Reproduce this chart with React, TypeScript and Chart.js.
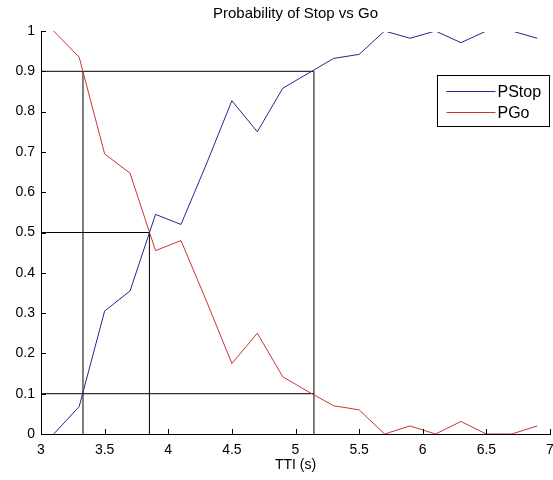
import React, { useEffect, useRef } from 'react';
import { Chart, registerables } from 'chart.js';

Chart.register(...registerables);

const TITLE = 'Probability of Stop vs Go';
const X_LABEL = 'TTI (s)';

const tti = [3.1, 3.3, 3.5, 3.7, 3.9, 4.1, 4.3, 4.5, 4.7, 4.9, 5.1, 5.3, 5.5, 5.7, 5.9, 6.1, 6.3, 6.5, 6.7, 6.9];
const pStop = [0, 0.068, 0.305, 0.355, 0.545, 0.52, 0.67, 0.827, 0.75, 0.858, 0.895, 0.932, 0.942, 1.0, 0.982, 1.0, 0.971, 1.0, 1.0, 0.982];
const pGo = [1.0, 0.935, 0.695, 0.647, 0.455, 0.48, 0.33, 0.175, 0.25, 0.142, 0.105, 0.07, 0.06, 0, 0.02, 0, 0.031, 0, 0, 0.02];

const seriesLabels = ['PStop', 'PGo'];
const seriesColors = ['#26268c', '#c83434'];

const xTickValues = [3, 3.5, 4, 4.5, 5, 5.5, 6, 6.5, 7];
const xTickLabels = ['3', '3.5', '4', '4.5', '5', '5.5', '6', '6.5', '7'];
const yTickValues = [0, 0.1, 0.2, 0.3, 0.4, 0.5, 0.6, 0.7, 0.8, 0.9, 1];
const yTickLabels = ['0', '0.1', '0.2', '0.3', '0.4', '0.5', '0.6', '0.7', '0.8', '0.9', '1'];

// threshold guide segments (start/end points)
const guideStartX = [3, 3.33, 3, 3.852, 3, 5.145];
const guideStartY = [0.9, 0, 0.5, 0, 0.1, 0];
const guideEndX = [5.145, 3.33, 3.852, 3.852, 5.145, 5.145];
const guideEndY = [0.9, 0.9, 0.5, 0.5, 0.1, 0.9];

const FONT = 'Arial, "Liberation Sans", Helvetica, sans-serif';

const matlabPlugin = {
  id: 'matlabDecor',
  afterDraw(chart: any) {
    const { ctx, chartArea } = chart;
    const xs = chart.scales.x;
    const ys = chart.scales.y;
    ctx.save();
    // inward ticks
    ctx.strokeStyle = '#000';
    ctx.lineWidth = 1;
    ctx.beginPath();
    xTickValues.forEach((v) => {
      const px = Math.round(xs.getPixelForValue(v)) + 0.5;
      ctx.moveTo(px, chartArea.bottom);
      ctx.lineTo(px, chartArea.bottom - 5);
    });
    yTickValues.forEach((v) => {
      const py = Math.round(ys.getPixelForValue(v)) + 0.5;
      ctx.moveTo(chartArea.left, py);
      ctx.lineTo(chartArea.left + 5, py);
    });
    ctx.stroke();

    // title
    ctx.fillStyle = '#000';
    ctx.font = `15px ${FONT}`;
    ctx.textAlign = 'center';
    ctx.textBaseline = 'middle';
    ctx.fillText(TITLE, (chartArea.left + chartArea.right) / 2, 14);

    // legend
    const w = 112;
    const h = 51;
    const bx = Math.round(chartArea.right - w - 1) + 0.5;
    const by = Math.round(chartArea.top + 44) + 0.5;
    ctx.fillStyle = '#fff';
    ctx.fillRect(bx, by, w, h);
    ctx.strokeStyle = '#000';
    ctx.strokeRect(bx, by, w, h);
    ctx.font = `16px ${FONT}`;
    ctx.textAlign = 'left';
    seriesLabels.forEach((lab, i) => {
      const ly = Math.round(by + 15 + i * 21) + 0.5;
      ctx.strokeStyle = seriesColors[i];
      ctx.beginPath();
      ctx.moveTo(bx + 9, ly);
      ctx.lineTo(bx + 58, ly);
      ctx.stroke();
      ctx.fillStyle = '#000';
      ctx.fillText(lab, bx + 60, ly + 1);
    });
    ctx.restore();
  },
};

export default function App() {
  const ref = useRef<HTMLCanvasElement | null>(null);
  useEffect(() => {
    if (!ref.current) return;
    const guides = guideStartX.map((x0, i) => ({
      label: 'guide' + i,
      data: [
        { x: x0, y: guideStartY[i] },
        { x: guideEndX[i], y: guideEndY[i] },
      ],
      borderColor: '#000',
      borderWidth: 1,
      pointRadius: 0,
      clip: 0,
    }));
    const chart = new Chart(ref.current, {
      type: 'line',
      data: {
        datasets: [
          {
            label: seriesLabels[0],
            data: tti.map((x, i) => ({ x, y: pStop[i] })),
            borderColor: seriesColors[0],
            borderWidth: 1,
            pointRadius: 0,
            tension: 0,
            clip: { left: 0, top: -1, right: 0, bottom: 0 },
          },
          {
            label: seriesLabels[1],
            data: tti.map((x, i) => ({ x, y: pGo[i] })),
            borderColor: seriesColors[1],
            borderWidth: 1,
            pointRadius: 0,
            tension: 0,
            clip: 0,
          },
          ...guides,
        ] as any,
      },
      options: {
        animation: false,
        responsive: false,
        devicePixelRatio: 1,
        layout: { padding: { top: 31, right: 3, bottom: 0, left: 0 } },
        plugins: {
          legend: { display: false },
          title: { display: false },
          tooltip: { enabled: false },
        },
        scales: {
          x: {
            type: 'linear',
            min: 3,
            max: 7,
            grid: { display: false, drawTicks: false },
            border: { display: true, color: '#000', width: 1 },
            afterBuildTicks: (s: any) => {
              s.ticks = xTickValues.map((v) => ({ value: v }));
            },
            afterFit: (s: any) => {
              s.height = 46;
              s.paddingLeft = 0;
              s.paddingRight = 0;
            },
            ticks: {
              padding: 8,
              color: '#000',
              font: { family: FONT, size: 14 },
              maxRotation: 0,
              autoSkip: false,
              callback: (_v: any, i: number) => xTickLabels[i],
            },
            title: {
              display: true,
              text: X_LABEL,
              color: '#000',
              font: { family: FONT, size: 14 },
              padding: { top: 0, bottom: 6 },
            },
          },
          y: {
            type: 'linear',
            min: 0,
            max: 1,
            grid: { display: false, drawTicks: false },
            border: { display: true, color: '#000', width: 1 },
            afterBuildTicks: (s: any) => {
              s.ticks = yTickValues.map((v) => ({ value: v }));
            },
            afterFit: (s: any) => {
              s.width = 41;
              s.paddingTop = 0;
              s.paddingBottom = 0;
            },
            ticks: {
              padding: 6,
              color: '#000',
              font: { family: FONT, size: 14 },
              autoSkip: false,
              callback: (_v: any, i: number) => yTickLabels[i],
            },
          },
        },
      } as any,
      plugins: [matlabPlugin],
    });
    return () => chart.destroy();
  }, []);
  return (
    <div style={{ position: 'fixed', left: 0, top: 0, width: 553, height: 480, background: '#fff' }}>
      <canvas ref={ref} width={553} height={480} style={{ display: 'block', width: 553, height: 480 }} />
    </div>
  );
}
